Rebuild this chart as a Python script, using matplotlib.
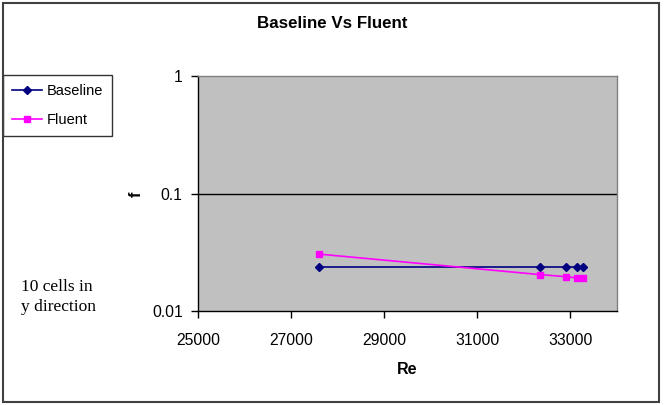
import matplotlib
matplotlib.use('Agg')
import matplotlib.pyplot as plt
from matplotlib.patches import Rectangle

plt.rcParams['font.family'] = ['Liberation Sans', 'DejaVu Sans']

# data
re_base = [27600, 32350, 32900, 33150, 33280]
f_base = [0.0237, 0.0237, 0.0237, 0.0237, 0.0237]
re_fluent = [27600, 32350, 32900, 33150, 33280]
f_fluent = [0.0305, 0.0204, 0.0196, 0.0191, 0.0191]
x_ticks = [25000, 27000, 29000, 31000, 33000]
y_ticks = [0.01, 0.1, 1]
y_tick_labels = ['0.01', '0.1', '1']

fig = plt.figure(figsize=(6.64, 4.05), dpi=100)
# outer chart border
fig.patches.append(Rectangle((3/664, 3/405), 656/664, 399/405, transform=fig.transFigure,
                             fill=False, edgecolor='#404040', linewidth=1.5))

ax = fig.add_axes([198/664, 94/405, 419/664, 235/405])
ax.set_facecolor('#C0C0C0')
ax.set_yscale('log')
ax.set_xlim(25000, 34000)
ax.set_ylim(0.01, 1)

ax.plot(re_base, f_base, color='#000080', marker='D', markersize=4, linewidth=1.2, label='Baseline')
ax.plot(re_fluent, f_fluent, color='#FF00FF', marker='s', markersize=4.5, linewidth=1.2, label='Fluent')

ax.axhline(0.1, color='black', linewidth=1)
ax.set_xticks(x_ticks)
ax.set_xticklabels([str(v) for v in x_ticks])
ax.set_yticks(y_ticks)
ax.set_yticklabels(y_tick_labels)
ax.minorticks_off()
ax.tick_params(labelsize=11.3, length=5, width=1, color='black')
ax.tick_params(axis='x', pad=11)
ax.tick_params(axis='y', pad=6)

for s in ['top', 'right']:
    ax.spines[s].set_color('#808080')
    ax.spines[s].set_linewidth(1)
for s in ['left', 'bottom']:
    ax.spines[s].set_color('black')
    ax.spines[s].set_linewidth(1)

fig.text(407/664, 1 - 370/405, 'Re', fontsize=11.5, fontweight='bold', ha='center', va='center')
fig.text(136/664, 1 - 194/405, 'f', rotation=90, fontsize=11.5, fontweight='bold', ha='center', va='center')
fig.text(332/664, 1 - 24/405, 'Baseline Vs Fluent', fontsize=12.2, fontweight='bold', ha='center', va='center')
fig.text(21/664, 1 - 297/405, '10 cells in\ny direction', family=['Liberation Serif', 'DejaVu Serif'],
         fontsize=12.5, ha='left', va='center', linespacing=1.3)

leg = ax.legend(loc='upper left', bbox_to_anchor=(3/664, 1 - 75/405), bbox_transform=fig.transFigure,
                fontsize=10.5, frameon=True, fancybox=False, edgecolor='black', borderaxespad=0,
                handlelength=2.1, handletextpad=0.3, labelspacing=1.05, borderpad=0.6)
leg.get_frame().set_linewidth(1)

fig.savefig('out.png', dpi=100)
